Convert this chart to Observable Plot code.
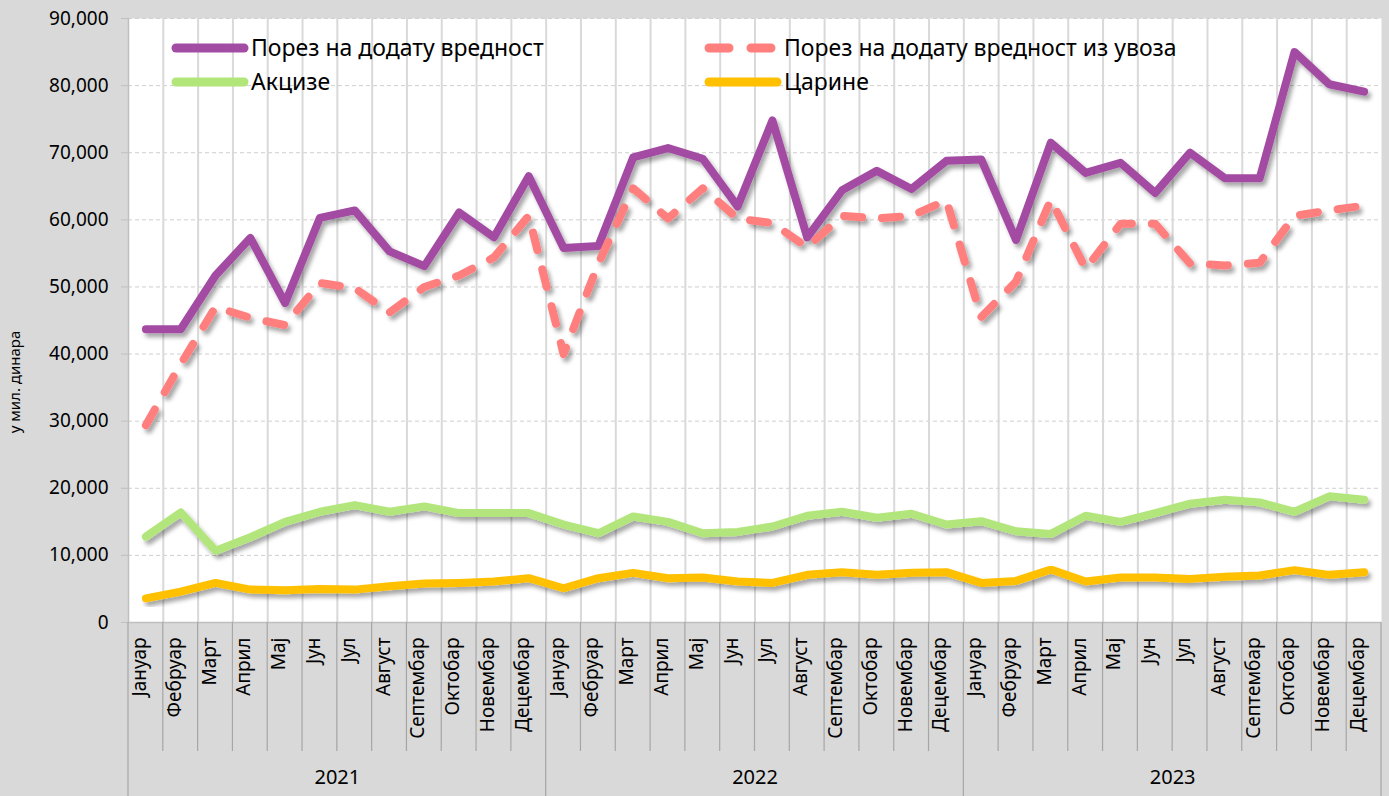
<!DOCTYPE html>
<html><head><meta charset="utf-8">
<script src="https://cdn.jsdelivr.net/npm/d3@7"></script>
<script src="https://cdn.jsdelivr.net/npm/@observablehq/plot@0.6"></script>
<style>
html,body{margin:0;padding:0;background:#d9d9d9;}
#chart{width:1389px;height:796px;overflow:hidden;}
</style></head><body><div id="chart"></div>
<script>
const years = ["2021","2022","2023"];
const months = ["Јануар","Фебруар","Март","Април","Мај","Јун","Јул","Август","Септембар","Октобар","Новембар","Децембар"];
const seriesNames = ["Порез на додату вредност","Порез на додату вредност из увоза","Акцизе","Царине"];
const seriesColors = ["#a34ca3","#ff7f7f","#b2e67b","#ffc000"];
const pdv = [43700,43700,51700,57300,47600,60300,61400,55300,53100,61100,57400,66500,
  55800,56100,69300,70700,69100,62000,74800,57400,64400,67300,64600,68800,
  69000,57000,71500,67000,68500,64000,70000,66200,66200,85000,80200,79100];
const pdvUvoz = [29400,38500,47000,45400,44300,50600,49800,46200,50000,51700,54400,60600,
  40000,53500,64700,60200,64700,60200,59500,55900,60600,60200,60600,62900,
  45500,50800,63000,52700,59400,59400,53500,53200,53600,60600,61400,62100];
const akcize = [12800,16400,10700,12700,15000,16500,17500,16500,17300,16300,16300,16300,
  14600,13300,15800,15000,13300,13500,14300,15900,16500,15600,16200,14600,
  15100,13600,13200,15900,15000,16300,17700,18300,17900,16500,18800,18300];
const carine = [3600,4600,5900,4900,4800,5000,4900,5400,5800,5900,6100,6600,
  5100,6600,7400,6600,6700,6100,5900,7100,7500,7100,7400,7500,
  5900,6200,7900,6100,6700,6700,6500,6800,7000,7800,7100,7500];
const yTicks = [0,10000,20000,30000,40000,50000,60000,70000,80000,90000];
const yTitle = "у мил. динара";

const seriesValues = [pdv, pdvUvoz, akcize, carine];
const periods = years.flatMap((y, yi) => months.map((m, mi) => ({i: yi*12+mi, month: m, year: y})));
const rows = seriesValues.flatMap((vals, s) => vals.map((v, i) => ({i, s, value: v})));
const font = "'Noto Sans', sans-serif";

const lineMark = (s, extra={}) => Plot.line(rows.filter(d => d.s === s), {
  x: d => d.i + 0.5, y: "value", stroke: seriesColors[s], strokeWidth: 8,
  strokeLinecap: "round", strokeLinejoin: "round", ...extra
});

const plot = Plot.plot({
  width: 1389, height: 796,
  marginLeft: 128, marginRight: 8, marginTop: 18, marginBottom: 174,
  style: {background: "#d9d9d9", fontFamily: font, fontSize: "18px", color: "#000", overflow: "visible"},
  x: {type: "linear", domain: [0, 36], axis: null},
  y: {domain: [0, 90000], axis: null},
  marks: [
    Plot.frame({fill: "white", stroke: null}),
    Plot.gridY({ticks: yTicks.slice(1), stroke: "#cfcfcf", strokeOpacity: 1, strokeDasharray: "4 3", strokeWidth: 1}),
    Plot.gridX({ticks: d3.range(1, 36), stroke: "#d9d9d9", strokeOpacity: 1, strokeWidth: 2}),
    Plot.axisY({ticks: yTicks, tickFormat: d3.format(","), tickSize: 7, tickPadding: 13, stroke: "#bfbfbf", fontSize: 19, fill: "#000", label: null}),
    Plot.ruleX([0], {stroke: "#bfbfbf", strokeWidth: 1.5}),
    Plot.ruleY([0], {stroke: "#bfbfbf", strokeWidth: 1.5}),
    lineMark(0),
    lineMark(1, {strokeDasharray: "18 20"}),
    lineMark(2),
    lineMark(3),
    Plot.text(periods, {x: d => d.i + 0.5, text: "month", frameAnchor: "bottom", rotate: -90, textAnchor: "end", dy: 15, fontSize: 19, fill: "#000"}),
    Plot.text(years, {x: (d, i) => i*12 + 6, text: d => d, frameAnchor: "bottom", dy: 161, fontSize: 20, fill: "#000"})
  ]
});

const svg = d3.select(plot);
const xs = plot.scale("x");
const yBottom = 622;
// separators in category axis area
const sep = svg.append("g");
d3.range(0, 37).forEach(b => {
  const x = xs.apply(b);
  const isYear = b % 12 === 0;
  sep.append("line").attr("x1", x).attr("x2", x).attr("y1", yBottom).attr("y2", isYear ? 796 : 751)
    .attr("stroke", "#a6a6a6").attr("stroke-width", 1.2);
});
// drop shadow
const defs = svg.insert("defs", ":first-child");
const f = defs.append("filter").attr("id", "shadow").attr("x", "-10%").attr("y", "-10%").attr("width", "130%").attr("height", "140%");
f.append("feDropShadow").attr("dx", 3).attr("dy", 4).attr("stdDeviation", 2.2).attr("flood-color", "#000").attr("flood-opacity", 0.35);
svg.selectAll("g[aria-label='line']").attr("filter", "url(#shadow)");

// y title
svg.append("text").attr("transform", "translate(16,382) rotate(-90)").attr("text-anchor", "middle")
  .attr("dominant-baseline", "middle").attr("font-size", 15).attr("font-family", font).attr("fill", "#000").text(yTitle);

// legend
const legend = svg.append("g").attr("font-family", font).attr("font-size", 23).attr("fill", "#000").attr("text-anchor", "start");
const legPos = [[176, 48], [709, 48], [176, 82], [709, 82]];
seriesNames.forEach((name, s) => {
  const [lx, ly] = legPos[s];
  legend.append("line").attr("x1", lx).attr("x2", lx + 68).attr("y1", ly).attr("y2", ly)
    .attr("stroke", seriesColors[s]).attr("stroke-width", 9).attr("stroke-linecap", "round")
    .attr("stroke-dasharray", s === 1 ? "20 22" : null);
  legend.append("text").attr("x", lx + 75).attr("y", ly).attr("dy", "0.35em").attr("text-anchor", "start").text(name);
});

document.getElementById("chart").appendChild(plot);
</script></body></html>
